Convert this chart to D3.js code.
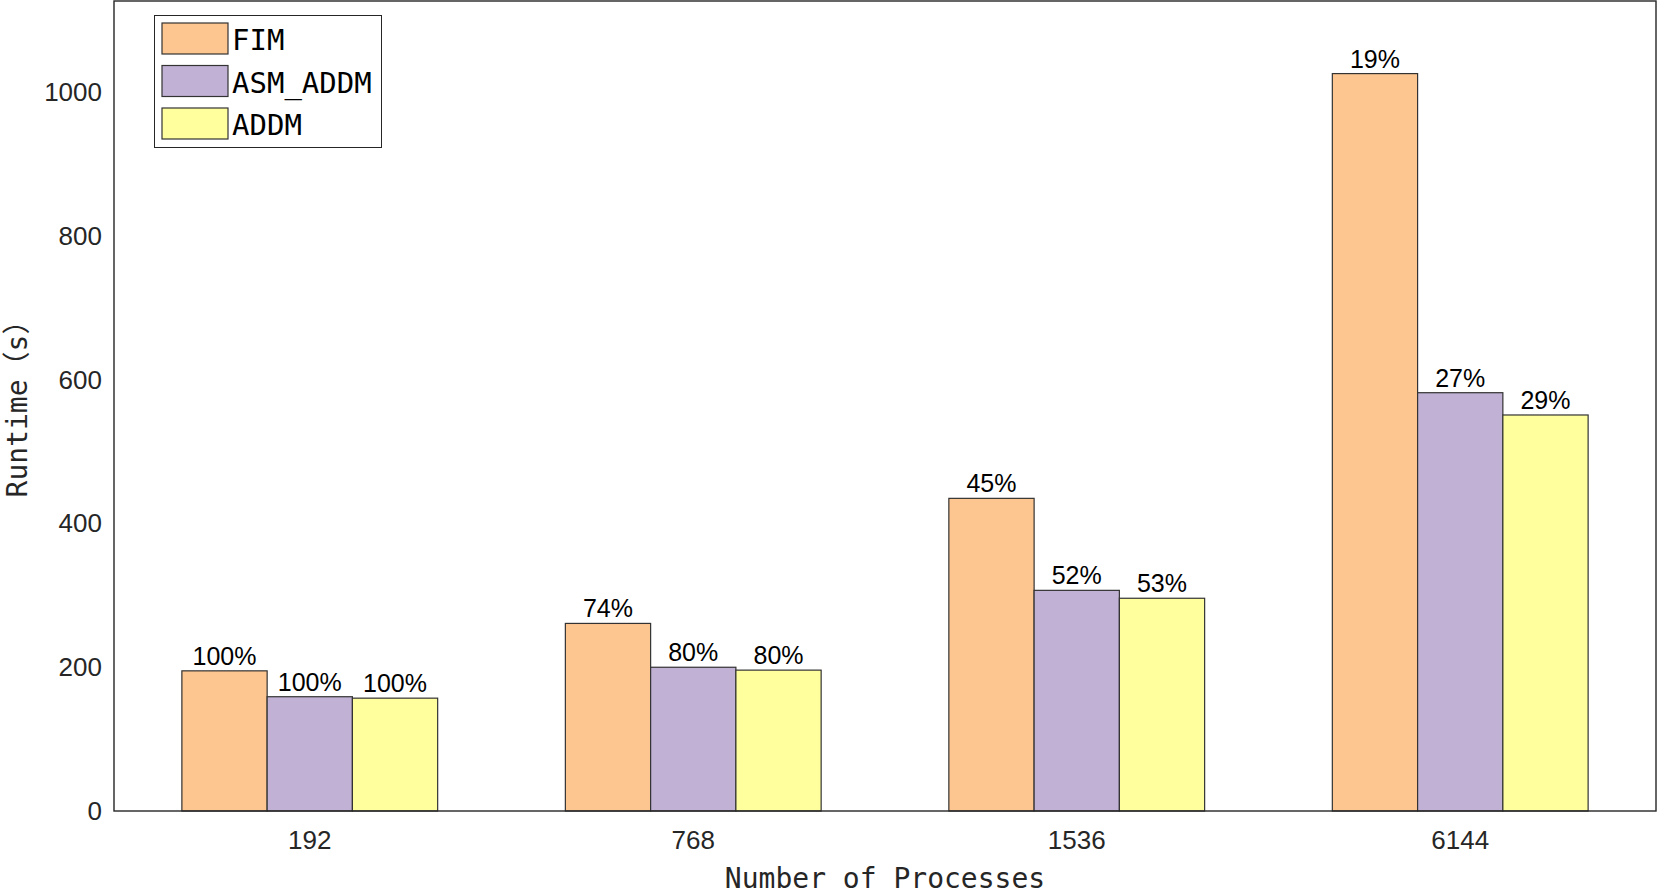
<!DOCTYPE html>
<html><head><meta charset="utf-8">
<script src="https://cdn.jsdelivr.net/npm/d3@7"></script>
<style>html,body{margin:0;padding:0;background:#fff;}svg{display:block;}</style>
</head><body>
<script>
const categories = ["192", "768", "1536", "6144"];
const seriesNames = ["FIM", "ASM_ADDM", "ADDM"];
const fimValues = [195, 261, 435, 1026];
const asmAddmValues = [159, 200, 307, 582];
const addmValues = [157, 196, 296, 551];
const fimLabels = ["100%", "74%", "45%", "19%"];
const asmAddmLabels = ["100%", "80%", "52%", "27%"];
const addmLabels = ["100%", "80%", "53%", "29%"];
const yTicks = [0, 200, 400, 600, 800, 1000];
const yMax = 1127;
const colors = ["#fdc590", "#c1b1d5", "#ffff9e"];

(function () {
const W = 1661, H = 896;
const mLeft = 114, mRight = 1656, mTop = 1, mBottom = 811;

const seriesValues = [fimValues, asmAddmValues, addmValues];
const seriesLabels = [fimLabels, asmAddmLabels, addmLabels];

const svg = d3.select("body").append("svg").attr("width", W).attr("height", H);

const x0 = d3.scaleBand().domain(categories).range([mLeft, mRight]).paddingInner(0.333).paddingOuter(0.177);
const x1 = d3.scaleBand().domain(seriesNames).range([0, x0.bandwidth()]).padding(0);
const y = d3.scaleLinear().domain([0, yMax]).range([mBottom, mTop]);

const data = [];
categories.forEach((c, i) => seriesNames.forEach((s, j) => data.push({c, s, j, v: seriesValues[j][i], lab: seriesLabels[j][i]})));

svg.append("g").selectAll("rect").data(data).join("rect")
  .attr("x", d => x0(d.c) + x1(d.s))
  .attr("y", d => y(d.v))
  .attr("width", x1.bandwidth())
  .attr("height", d => y(0) - y(d.v))
  .attr("fill", d => colors[d.j])
  .attr("stroke", "#333")
  .attr("stroke-width", 1.2);

svg.append("g").selectAll("text").data(data).join("text")
  .attr("x", d => x0(d.c) + x1(d.s) + x1.bandwidth() / 2)
  .attr("y", d => y(d.v) - 6)
  .attr("text-anchor", "middle")
  .attr("font-family", "Liberation Sans, Arial, sans-serif")
  .attr("font-size", 25)
  .attr("fill", "#000")
  .text(d => d.lab);

const yAxis = svg.append("g").attr("transform", `translate(${mLeft},0)`)
  .call(d3.axisLeft(y).tickValues(yTicks).tickFormat(d3.format("d")).tickSize(0).tickPadding(12));
yAxis.select(".domain").remove();
yAxis.selectAll("text").attr("font-family", "Liberation Sans, Arial, sans-serif").attr("font-size", 26).attr("fill", "#262626");

const xAxis = svg.append("g").attr("transform", `translate(0,${mBottom})`)
  .call(d3.axisBottom(x0).tickSize(0).tickPadding(20));
xAxis.select(".domain").remove();
xAxis.selectAll("text").attr("font-family", "Liberation Sans, Arial, sans-serif").attr("font-size", 26).attr("fill", "#262626");

svg.append("rect").attr("x", mLeft).attr("y", mTop).attr("width", mRight - mLeft).attr("height", mBottom - mTop)
  .attr("fill", "none").attr("stroke", "#262626").attr("stroke-width", 1.4);

svg.append("text").attr("x", (mLeft + mRight) / 2).attr("y", 888).attr("text-anchor", "middle")
  .attr("font-family", "DejaVu Sans Mono, Noto Sans CJK SC, monospace").attr("font-size", 28).attr("fill", "#262626")
  .text("Number of Processes");
svg.append("text").attr("transform", `translate(27,${(mTop + mBottom) / 2 - 4}) rotate(-90)`).attr("text-anchor", "middle")
  .attr("font-family", "DejaVu Sans Mono, Noto Sans CJK SC, monospace").attr("font-size", 28).attr("fill", "#262626")
  .text("Runtime（s）");

const lg = svg.append("g");
lg.append("rect").attr("x", 154.5).attr("y", 15.5).attr("width", 227).attr("height", 132)
  .attr("fill", "#fff").attr("stroke", "#262626").attr("stroke-width", 1);
seriesNames.forEach((s, j) => {
  const yy = 23 + j * 42.5;
  lg.append("rect").attr("x", 162).attr("y", yy).attr("width", 66).attr("height", 31)
    .attr("fill", colors[j]).attr("stroke", "#333").attr("stroke-width", 1.2);
  lg.append("text").attr("x", 232).attr("y", yy + 27).attr("font-family", "DejaVu Sans Mono, monospace")
    .attr("font-size", 29).attr("fill", "#000").text(s);
});
})();
</script>
</body></html>
